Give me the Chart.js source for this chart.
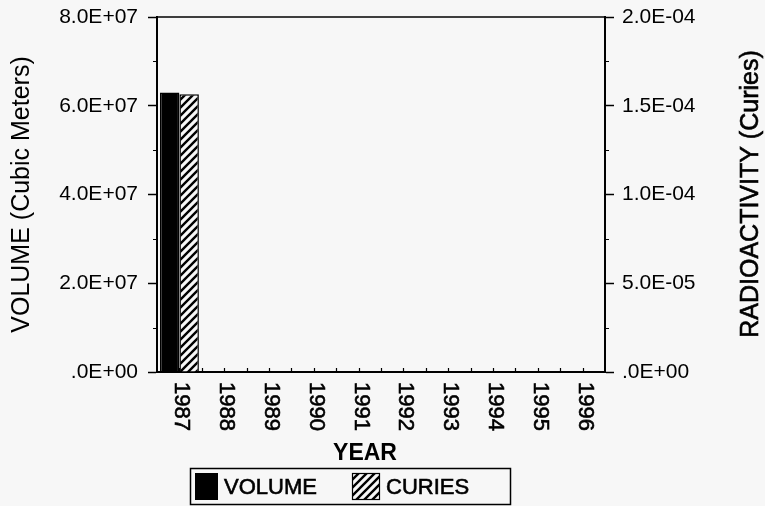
<!DOCTYPE html>
<html>
<head>
<meta charset="utf-8">
<script src="https://cdn.jsdelivr.net/npm/chart.js@4/dist/chart.umd.min.js"></script>
<style>
  html, body { margin: 0; padding: 0; background: #f7f7f7; }
  #wrap { width: 765px; height: 506px; position: relative; }
</style>
</head>
<body>
<div id="wrap"><canvas id="c" width="765" height="506"></canvas></div>
<script>
// ---- data ----
const years = ['1987','1988','1989','1990','1991','1992','1993','1994','1995','1996'];
const volumeM3 = [6.30e7, 0, 0, 0, 0, 0, 0, 0, 0, 0];
const curies   = [1.565e-4, 0, 0, 0, 0, 0, 0, 0, 0, 0];
const leftAxis  = { max: 8e7,  major: 2e7,  minor: 1e7 };
const rightAxis = { max: 2e-4, major: 5e-5, minor: 2.5e-5 };
const seriesNames = ['VOLUME', 'CURIES'];
const axisTitles = { left: 'VOLUME (Cubic Meters)', right: 'RADIOACTIVITY (Curies)', x: 'YEAR' };

function fmtSci(v) {
  if (Math.abs(v) < 1e-30) return '.0E+00';
  let e = Math.floor(Math.log10(Math.abs(v)) + 1e-9);
  let m = v / Math.pow(10, e);
  if (Math.abs(m) >= 9.95) { e += 1; m = v / Math.pow(10, e); }
  return m.toFixed(1) + 'E' + (e < 0 ? '-' : '+') + String(Math.abs(e)).padStart(2, '0');
}

function makeHatch() {
  const s = 8;
  const c = document.createElement('canvas');
  c.width = s; c.height = s;
  const g = c.getContext('2d');
  g.fillStyle = '#f7f7f7';
  g.fillRect(0, 0, s, s);
  g.strokeStyle = '#000';
  g.lineWidth = 2.4;
  g.beginPath();
  g.moveTo(0, s); g.lineTo(s, 0);
  g.moveTo(-s/2, s/2); g.lineTo(s/2, -s/2);
  g.moveTo(s/2, s*1.5); g.lineTo(s*1.5, s/2);
  g.stroke();
  return g.createPattern(c, 'repeat');
}
const hatch = makeHatch();
const FONT = '"Liberation Sans", Arial, sans-serif';

function boldText(ctx, t, x, y) {
  ctx.fillText(t, x, y);
  ctx.lineWidth = 0.6;
  ctx.strokeText(t, x, y);
}

const deco = {
  id: 'deco',
  beforeDraw(chart) {
    const ctx = chart.ctx;
    ctx.save();
    ctx.fillStyle = '#f7f7f7';
    ctx.fillRect(0, 0, chart.width, chart.height);
    ctx.restore();
  },
  afterDraw(chart) {
    const { ctx, chartArea: a, scales } = chart;
    const x = scales.x, y = scales.y, y1 = scales.y1;
    ctx.save();
    ctx.strokeStyle = '#000';
    ctx.fillStyle = '#000';
    // top frame line
    ctx.lineWidth = 1.5;
    ctx.beginPath();
    ctx.moveTo(a.left, a.top); ctx.lineTo(a.right, a.top);
    ctx.stroke();
    // minor ticks on value axes
    ctx.lineWidth = 1.2;
    ctx.beginPath();
    for (let v = leftAxis.minor; v < leftAxis.max; v += leftAxis.major) {
      const py = Math.round(y.getPixelForValue(v)) + 0.5;
      ctx.moveTo(a.left - 4, py); ctx.lineTo(a.left, py);
    }
    for (let v = rightAxis.minor; v < rightAxis.max; v += rightAxis.major) {
      const py = Math.round(y1.getPixelForValue(v)) + 0.5;
      ctx.moveTo(a.right, py); ctx.lineTo(a.right + 4, py);
    }
    // small inward ticks along the year axis
    for (let i = 0; i < years.length; i++) {
      for (const off of [0, 0.5]) {
        const px = Math.round(x.getPixelForValue(i + off)) + 0.5;
        if (px >= a.right - 1) continue;
        ctx.moveTo(px, a.bottom); ctx.lineTo(px, a.bottom - 4);
      }
    }
    ctx.stroke();
    // year labels, reading top to bottom
    ctx.font = '22px ' + FONT;
    ctx.textAlign = 'left';
    ctx.textBaseline = 'middle';
    for (let i = 0; i < years.length; i++) {
      const px = x.getPixelForValue(i) + 2;
      ctx.save();
      ctx.translate(px, a.bottom + 10);
      ctx.rotate(Math.PI / 2);
      boldText(ctx, years[i], 0, 0);
      ctx.restore();
    }
    // x title
    ctx.font = 'bold 23px ' + FONT;
    ctx.textAlign = 'center';
    ctx.fillText(axisTitles.x, 365, 454);
    // right title, reading bottom to top
    ctx.font = '25px ' + FONT;
    ctx.save();
    ctx.translate(751, 194);
    ctx.rotate(-Math.PI / 2);
    boldText(ctx, axisTitles.right, 0, 0);
    ctx.restore();
    // legend
    const ds = chart.data.datasets;
    ctx.lineWidth = 1.5;
    ctx.strokeRect(190.5, 468.5, 320, 36);
    ctx.fillStyle = ds[0].backgroundColor;
    ctx.fillRect(195, 473, 23, 27);
    ctx.fillStyle = ds[1].backgroundColor;
    ctx.fillRect(352, 473, 28, 27);
    ctx.lineWidth = 1.2;
    ctx.strokeRect(352.5, 473.5, 27, 26);
    ctx.fillStyle = '#000';
    ctx.font = '22px ' + FONT;
    ctx.textAlign = 'left';
    boldText(ctx, ds[0].label, 224, 488);
    boldText(ctx, ds[1].label, 386, 488);
    ctx.restore();
  }
};

function fitV(w) {
  return function (s) { s.width = w; s.paddingTop = 0; s.paddingBottom = 0; };
}

new Chart(document.getElementById('c'), {
  type: 'bar',
  data: {
    labels: years,
    datasets: [
      { label: seriesNames[0], data: volumeM3, yAxisID: 'y',
        backgroundColor: '#000', borderColor: '#000', borderWidth: 1.5 },
      { label: seriesNames[1], data: curies, yAxisID: 'y1',
        backgroundColor: hatch, borderColor: '#000', borderWidth: 1.5 }
    ]
  },
  options: {
    responsive: false,
    animation: false,
    devicePixelRatio: 1,
    layout: { padding: { top: 17, left: 0, right: 0, bottom: 0 } },
    datasets: { bar: { categoryPercentage: 0.87, barPercentage: 1.0 } },
    plugins: { legend: { display: false }, tooltip: { enabled: false } },
    scales: {
      x: {
        type: 'category',
        offset: true,
        grid: { display: false, drawTicks: false },
        border: { display: true, color: '#000', width: 2 },
        ticks: { display: false },
        afterFit(s) { s.height = 134; s.paddingLeft = 0; s.paddingRight = 0; }
      },
      y: {
        position: 'left',
        min: 0, max: leftAxis.max,
        grid: { drawOnChartArea: false, drawTicks: true, tickLength: 9, tickColor: '#000', tickWidth: 1.5 },
        border: { display: true, color: '#000', width: 2 },
        ticks: { stepSize: leftAxis.major, padding: 10, color: '#000',
                 font: { family: FONT, size: 21 }, callback: v => fmtSci(v) },
        title: { display: true, text: axisTitles.left, color: '#000',
                 font: { family: FONT, size: 25, lineHeight: 1 }, padding: { top: 10, bottom: 0 } },
        afterFit: fitV(157)
      },
      y1: {
        position: 'right',
        min: 0, max: rightAxis.max,
        grid: { drawOnChartArea: false, drawTicks: true, tickLength: 9, tickColor: '#000', tickWidth: 1.5 },
        border: { display: true, color: '#000', width: 2 },
        ticks: { stepSize: rightAxis.major, padding: 8, color: '#000',
                 font: { family: FONT, size: 21 }, callback: v => fmtSci(v) },
        afterFit: fitV(160)
      }
    }
  },
  plugins: [deco]
});
</script>
</body>
</html>
